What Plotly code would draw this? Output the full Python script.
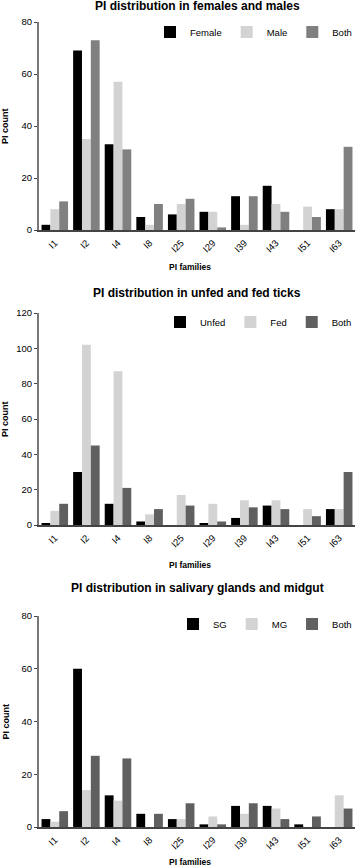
import plotly.graph_objects as go

families = ["I1", "I2", "I4", "I8", "I25", "I29", "I39", "I43", "I51", "I63"]

# Panel 1: females and males
female = [2, 69, 33, 5, 6, 7, 13, 17, 0, 8]
male = [8, 35, 57, 2, 10, 7, 2, 10, 9, 8]
both_sex = [11, 73, 31, 10, 12, 1, 13, 7, 5, 32]

# Panel 2: unfed and fed ticks
unfed = [1, 30, 12, 2, 0, 1, 4, 11, 0, 9]
fed = [8, 102, 87, 6, 17, 12, 14, 14, 9, 9]
both_feed = [12, 45, 21, 9, 11, 2, 10, 9, 5, 30]

# Panel 3: salivary glands and midgut
sg = [3, 60, 12, 5, 3, 1, 8, 8, 1, 0]
mg = [2, 14, 10, 0, 3, 4, 5, 7, 0, 12]
both_tissue = [6, 27, 26, 5, 9, 1, 9, 3, 4, 7]

titles = ["PI distribution in females and males",
          "PI distribution in unfed and fed ticks",
          "PI distribution in salivary glands and midgut"]

W, H = 357, 866
def py(px):
    return 1 - px / H

panels = [
    dict(series=[("Female", female, "#000000"), ("Male", male, "#d3d3d3"), ("Both", both_sex, "#808080")],
         top=22, bottom=230, ymax=80, title_y=6, xt_y=267, leg_y=32),
    dict(series=[("Unfed", unfed, "#000000"), ("Fed", fed, "#d3d3d3"), ("Both", both_feed, "#606060")],
         top=313, bottom=525, ymax=120, title_y=293, xt_y=565, leg_y=322),
    dict(series=[("SG", sg, "#000000"), ("MG", mg, "#d3d3d3"), ("Both", both_tissue, "#606060")],
         top=616, bottom=827, ymax=80, title_y=588, xt_y=862, leg_y=624),
]

x0, x1 = 39 / W, 355 / W
fig = go.Figure()
annotations = []
layout = dict(width=W, height=H, margin=dict(l=0, r=0, t=0, b=0, autoexpand=False),
              paper_bgcolor="white", plot_bgcolor="white",
              font=dict(family="Liberation Sans, Arial, sans-serif", size=9, color="#000"),
              barmode="group", bargap=0.16, bargroupgap=0.0, showlegend=True)

for i, p in enumerate(panels):
    n = "" if i == 0 else str(i + 1)
    leg = "legend" + n
    for name, vals, col in p["series"]:
        fig.add_trace(go.Bar(x=families, y=vals, name=name, marker=dict(color=col, line=dict(width=0)),
                             xaxis="x" + n, yaxis="y" + n, legend=leg))
    layout["xaxis" + n] = dict(domain=[x0, x1], anchor="y" + n, showgrid=False, automargin=False,
                               showline=True, linecolor="#444", linewidth=1.5,
                               ticks="outside", ticklen=2, tickcolor="rgba(0,0,0,0)",
                               tickangle=-45, tickfont=dict(size=9.5),
                               range=[-0.5, 9.5])
    layout["yaxis" + n] = dict(domain=[py(p["bottom"]), py(p["top"])], anchor="x" + n,
                               automargin=False,
                               range=[0, p["ymax"]], dtick=20, showgrid=False, zeroline=False,
                               showline=True, linecolor="#777", linewidth=2,
                               ticks="outside", ticklen=3, tickcolor="#444",
                               tickfont=dict(size=9.5))
    layout[leg] = dict(orientation="h", x=1.0, xanchor="right", y=py(p["leg_y"]), yanchor="middle",
                       font=dict(size=9.5), bgcolor="rgba(0,0,0,0)",
                       itemwidth=30, tracegroupgap=0)
    annotations.append(dict(text="<b>" + titles[i] + "</b>", x=(x0 + x1) / 2, xref="paper",
                            y=py(p["title_y"]), yref="paper", yanchor="middle", showarrow=False,
                            font=dict(size=12)))
    annotations.append(dict(text="<b>PI families</b>", x=(x0 + x1) / 2 - 0.02, xref="paper",
                            y=py(p["xt_y"]), yref="paper", yanchor="middle", showarrow=False,
                            font=dict(size=8.5)))
    annotations.append(dict(text="<b>PI count</b>", x=5 / W, xref="paper", xanchor="center",
                            y=py((p["top"] + p["bottom"]) / 2), yref="paper", yanchor="middle",
                            textangle=-90, showarrow=False, font=dict(size=9)))

layout["annotations"] = annotations
fig.update_layout(**layout)
fig.write_html("out.html", config={"displayModeBar": False},
               post_script="document.body.style.margin='0';document.body.style.overflow='hidden';")
